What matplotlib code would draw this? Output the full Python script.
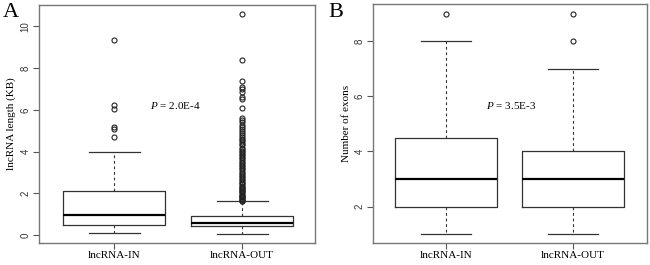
import matplotlib
matplotlib.use("Agg")
import matplotlib.pyplot as plt

# Panel A: lncRNA length (KB)
groups = ["lncRNA-IN", "lncRNA-OUT"]
len_low = [0.1, 0.05]
len_q1 = [0.5, 0.45]
len_med = [0.95, 0.6]
len_q3 = [2.1, 0.9]
len_high = [4.0, 1.65]
len_out_in = [4.7, 5.1, 5.2, 6.05, 6.25, 9.35]
len_out_out = [1.62, 1.66, 1.7, 1.74, 1.78, 1.82, 1.86, 1.9, 1.95, 2.0, 2.05, 2.1,
               2.15, 2.2, 2.26, 2.32, 2.38, 2.44, 2.5, 2.57, 2.64, 2.7, 2.78, 2.85,
               2.92, 3.0, 3.08, 3.15, 3.22, 3.3, 3.38, 3.45, 3.52, 3.6, 3.68, 3.75,
               3.83, 3.9, 3.98, 4.05, 4.12, 4.2, 4.3, 4.38, 4.45, 4.55, 4.62, 4.7,
               4.8, 4.9, 5.0, 5.1, 5.2, 5.3, 5.4, 5.5, 5.6, 6.1, 6.5, 6.6, 6.85,
               7.0, 7.1, 7.4, 8.4, 10.6]
p_len = "2.0E-4"

# Panel B: number of exons
ex_low = [1, 1]
ex_q1 = [2, 2]
ex_med = [3, 3]
ex_q3 = [4.5, 4]
ex_high = [8, 7]
ex_out_in = [9]
ex_out_out = [8, 9]
p_ex = "3.5E-3"

serif = "Liberation Serif"
sans = "Liberation Sans"


def stats(low, q1, med, q3, high, fliers):
    return [dict(whislo=low[i], q1=q1[i], med=med[i], q3=q3[i], whishi=high[i],
                 fliers=fliers[i], label="") for i in range(len(low))]


def draw(ax, st, yticks, ylim, xlim, ylabel, ptext, ppos, letter, letter_x):
    ax.bxp(st, positions=[1, 2], widths=0.8, showfliers=True,
           boxprops=dict(color="#333333", linewidth=0.9),
           medianprops=dict(color="black", linewidth=1.6),
           whiskerprops=dict(color="#333333", linewidth=0.8, linestyle=(0, (2.5, 2.5))),
           capprops=dict(color="#333333", linewidth=0.9),
           flierprops=dict(marker="o", markerfacecolor="none", markeredgecolor="#222222",
                           markersize=3.6, markeredgewidth=0.8))
    ax.set_xlim(*xlim)
    ax.set_ylim(*ylim)
    ax.set_yticks(yticks)
    ax.set_yticklabels([str(t) for t in yticks], rotation=90, va="center",
                       family=sans, fontsize=7, color="#333333")
    ax.set_xticks([1, 2])
    ax.set_xticklabels(groups, family=serif, fontsize=8)
    ax.tick_params(axis="both", length=4, width=0.8, color="#555555", pad=2)
    for s in ax.spines.values():
        s.set_color("#777777")
        s.set_linewidth(1.0)
    ax.set_ylabel(ylabel, family=serif, fontsize=8, labelpad=3)
    ax.text(ppos[0], ppos[1], "$P$ = " + ptext, family=serif, fontsize=8,
            ha="center", va="center")
    fig.text(letter_x, 0.99, letter, family=serif, fontsize=16, va="top")


plt.rcParams["mathtext.fontset"] = "custom"
plt.rcParams["mathtext.it"] = "Liberation Serif:italic"
plt.rcParams["mathtext.rm"] = "Liberation Serif"

fig = plt.figure(figsize=(6.5, 2.65), dpi=100)
axA = fig.add_axes([0.060, 0.083, 0.425, 0.898])
axB = fig.add_axes([0.574, 0.083, 0.421, 0.902])

draw(axA, stats(len_low, len_q1, len_med, len_q3, len_high, [len_out_in, len_out_out]),
     [0, 2, 4, 6, 8, 10], (-0.37, 11.02), (0.412, 2.572), "lncRNA length (KB)",
     p_len, (1.476, 6.21), "A", 0.005)
draw(axB, stats(ex_low, ex_q1, ex_med, ex_q3, ex_high, [ex_out_in, ex_out_out]),
     [2, 4, 6, 8], (0.68, 9.35), (0.427, 2.58), "Number of exons",
     p_ex, (1.512, 5.67), "B", 0.505)

fig.savefig("out.png", dpi=100)
